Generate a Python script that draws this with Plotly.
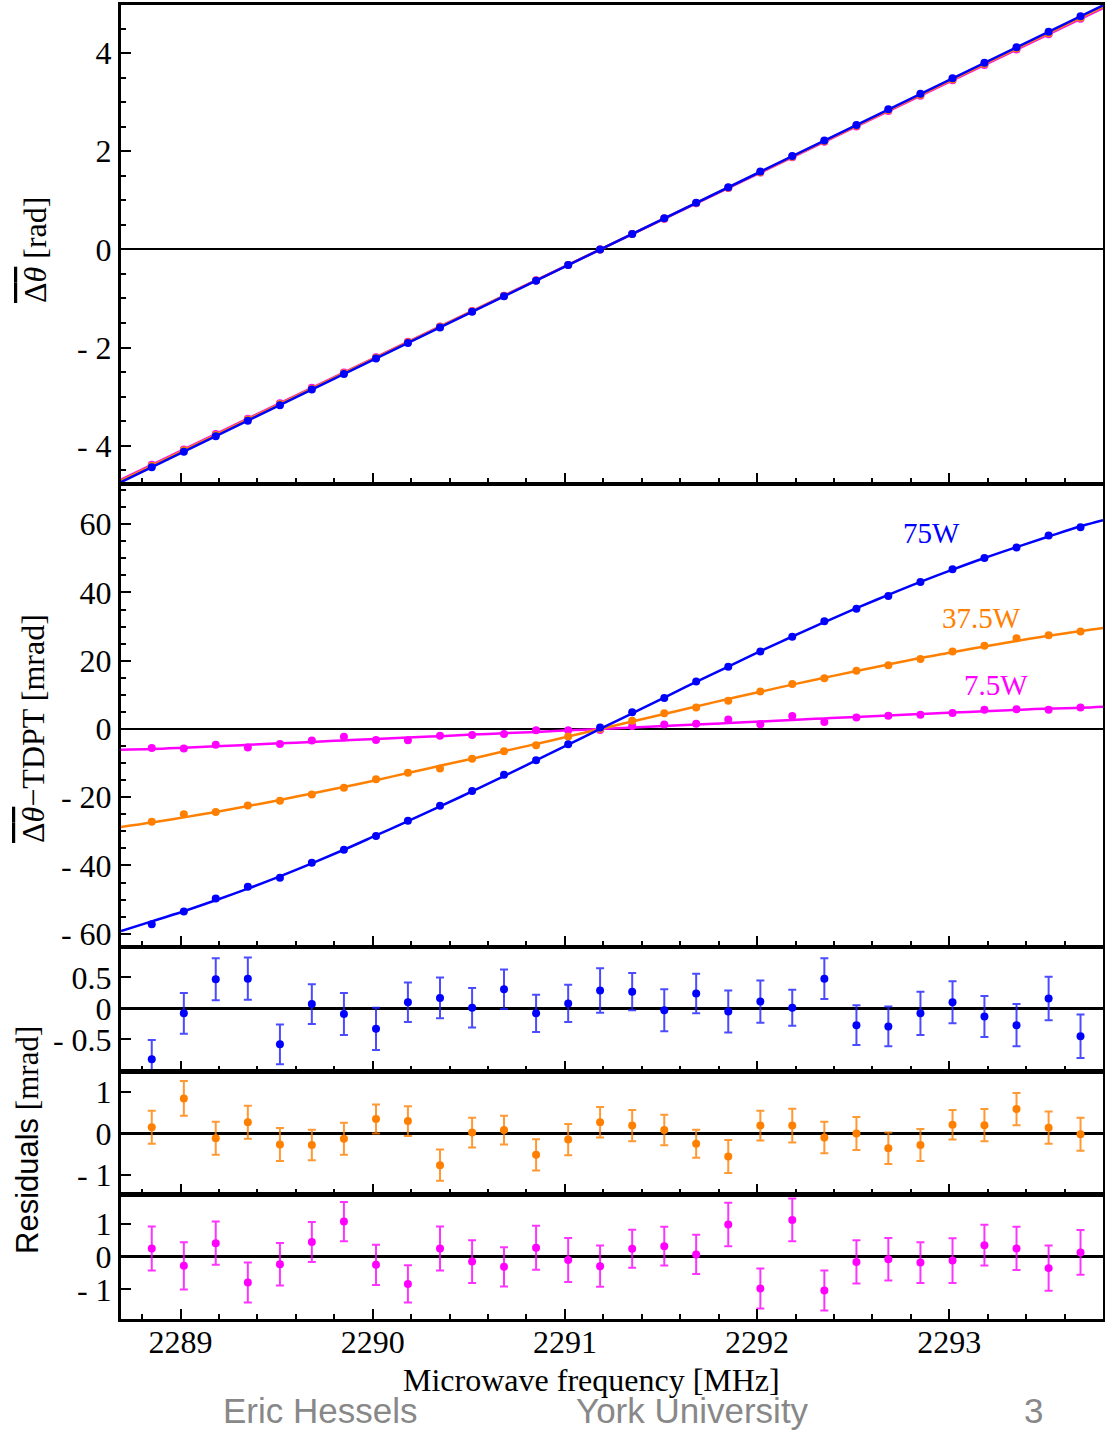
import plotly.graph_objects as go

# ---------------- data ----------------
freqs = [2288.85, 2289.017, 2289.183, 2289.35, 2289.517, 2289.683, 2289.85, 2290.017,
         2290.183, 2290.35, 2290.517, 2290.683, 2290.85, 2291.017, 2291.183, 2291.35,
         2291.517, 2291.683, 2291.85, 2292.017, 2292.183, 2292.35, 2292.517, 2292.683,
         2292.85, 2293.017, 2293.183, 2293.35, 2293.517, 2293.683]

# x positions of the fitted curves (plot edges + measured frequencies)
fit_x = [2288.69] + freqs + [2293.80]

# TDPT prediction [rad] at fit_x
tdpt = [-4.683, -4.383, -4.070, -3.757, -3.444, -3.131, -2.818, -2.506, -2.193, -1.880,
        -1.567, -1.254, -0.941, -0.628, -0.315, 0.000, 0.311, 0.624, 0.937, 1.250, 1.563,
        1.876, 2.189, 2.502, 2.815, 3.127, 3.440, 3.753, 4.066, 4.379, 4.692, 4.911]

# Δθ − TDPT [mrad], measured points
dev_75 = [-57.2, -53.5, -49.7, -46.2, -43.6, -39.2, -35.4, -31.4, -26.9, -22.5,
          -18.2, -13.4, -9.2, -4.5, 0.4, 4.9, 9.1, 13.9, 18.2, 22.7,
          27.0, 31.6, 35.2, 39.0, 43.1, 46.8, 50.1, 53.2, 56.7, 59.1]
dev_37 = [-27.2, -25.0, -24.3, -22.4, -21.0, -19.2, -17.2, -14.7, -12.8, -11.6,
          -8.7, -6.5, -4.8, -2.2, 0.0, 2.4, 4.6, 6.3, 8.3, 11.0,
          13.2, 14.9, 17.1, 18.7, 20.5, 22.7, 24.4, 26.6, 27.5, 28.6]
dev_7 = [-5.6, -5.7, -4.6, -5.4, -4.4, -3.4, -2.3, -3.2, -3.3, -2.0,
         -1.8, -1.5, -0.4, -0.4, -0.3, 0.9, 1.3, 1.5, 2.8, 1.4,
         3.8, 2.05, 3.4, 3.9, 4.2, 4.7, 5.6, 5.8, 5.6, 6.3]

# fitted curves [mrad] at fit_x
fit_75 = [-59.2, -56.4, -53.4, -50.2, -46.8, -43.2, -39.4, -35.4, -31.2, -27.0, -22.7,
          -18.3, -13.8, -9.2, -4.6, 0.0, 4.6, 9.2, 13.8, 18.3, 22.8,
          27.1, 31.3, 35.4, 39.3, 43.1, 46.7, 50.1, 53.3, 56.4, 59.4, 61.2]
fit_37 = [-28.7, -27.4, -25.9, -24.3, -22.6, -20.8, -18.9, -17.0, -15.0, -12.9, -10.8,
          -8.7, -6.5, -4.4, -2.2, 0.0, 2.2, 4.4, 6.6, 8.8, 10.9,
          13.0, 15.0, 17.0, 18.9, 20.8, 22.5, 24.2, 25.8, 27.3, 28.7, 29.6]
fit_7 = [-6.1, -5.9, -5.5, -5.05, -4.65, -4.2, -3.8, -3.35, -2.95, -2.5, -2.1,
         -1.65, -1.25, -0.85, -0.4, 0.0, 0.45, 0.85, 1.3, 1.75, 2.2,
         2.65, 3.1, 3.5, 3.95, 4.4, 4.8, 5.2, 5.6, 6.0, 6.2, 6.5]

# residuals [mrad] and their uncertainties
res_75 = [-0.82, -0.08, 0.47, 0.48, -0.58, 0.07, -0.09, -0.33, 0.10, 0.17,
          0.01, 0.31, -0.08, 0.08, 0.29, 0.27, -0.03, 0.24, -0.05, 0.11,
          0.01, 0.48, -0.27, -0.29, -0.08, 0.10, -0.13, -0.27, 0.16, -0.45]
err_75 = [0.31, 0.33, 0.34, 0.34, 0.32, 0.32, 0.34, 0.34, 0.32, 0.33,
          0.32, 0.32, 0.30, 0.30, 0.36, 0.30, 0.34, 0.32, 0.34, 0.34,
          0.29, 0.33, 0.32, 0.32, 0.35, 0.34, 0.33, 0.34, 0.35, 0.35]
res_37 = [0.15, 0.85, -0.12, 0.27, -0.27, -0.28, -0.13, 0.35, 0.30, -0.77,
          0.02, 0.08, -0.52, -0.15, 0.27, 0.19, 0.08, -0.25, -0.56, 0.19,
          0.19, -0.10, 0.00, -0.36, -0.28, 0.21, 0.20, 0.59, 0.14, -0.02]
err_37 = [0.40, 0.42, 0.40, 0.40, 0.40, 0.37, 0.39, 0.35, 0.36, 0.38,
          0.36, 0.35, 0.38, 0.38, 0.37, 0.38, 0.37, 0.34, 0.40, 0.36,
          0.41, 0.38, 0.40, 0.38, 0.39, 0.36, 0.39, 0.39, 0.39, 0.40]
res_7 = [0.25, -0.28, 0.41, -0.79, -0.23, 0.45, 1.07, -0.25, -0.83, 0.25,
         -0.15, -0.31, 0.27, -0.10, -0.29, 0.24, 0.32, 0.07, 0.98, -0.97,
         1.12, -1.03, -0.16, -0.08, -0.18, -0.12, 0.35, 0.25, -0.35, 0.13]
err_7 = [0.67, 0.72, 0.66, 0.61, 0.65, 0.61, 0.60, 0.61, 0.57, 0.67,
         0.65, 0.60, 0.67, 0.67, 0.63, 0.58, 0.59, 0.60, 0.66, 0.61,
         0.65, 0.61, 0.66, 0.65, 0.62, 0.68, 0.62, 0.66, 0.69, 0.68]

series = [("7.5W", "#FF00FF", dev_7, fit_7, res_7, err_7),
          ("37.5W", "#FF8000", dev_37, fit_37, res_37, err_37),
          ("75W", "#0000FF", dev_75, fit_75, res_75, err_75)]

tdpt_pts = tdpt[1:-1]

# ---------------- figure ----------------
W, H = 1105, 1432
ML, MR, MT, MB = 121, 2, 5, 113
PH = H - MT - MB


def dom(top_px, bot_px):
    return [(H - MB - bot_px) / PH, (H - MB - top_px) / PH]


fig = go.Figure()
SERIF = "Liberation Serif"

for name, col, dev, fit, res, err in series:
    fig.add_trace(go.Scatter(x=fit_x, y=[t + f / 1000 for t, f in zip(tdpt, fit)],
                             mode="lines", line=dict(color=col, width=2.5),
                             xaxis="x", yaxis="y", showlegend=False, hoverinfo="skip"))
    fig.add_trace(go.Scatter(x=freqs, y=[t + d / 1000 for t, d in zip(tdpt_pts, dev)],
                             mode="markers", marker=dict(color=col, size=8),
                             xaxis="x", yaxis="y", showlegend=False))
    fig.add_trace(go.Scatter(x=fit_x, y=fit, mode="lines", line=dict(color=col, width=2.5),
                             line_shape="spline", xaxis="x2", yaxis="y2",
                             showlegend=False, hoverinfo="skip"))
    fig.add_trace(go.Scatter(x=freqs, y=dev, mode="markers", marker=dict(color=col, size=8),
                             xaxis="x2", yaxis="y2", showlegend=False, name=name))

res_axes = {"75W": ("x3", "y3"), "37.5W": ("x4", "y4"), "7.5W": ("x5", "y5")}
err_cols = {"75W": "rgba(30,30,255,0.8)", "37.5W": "rgba(255,128,0,0.8)",
            "7.5W": "rgba(255,0,255,0.8)"}
for name, col, dev, fit, res, err in series:
    xa, ya = res_axes[name]
    fig.add_trace(go.Scatter(x=freqs, y=res, mode="markers",
                             marker=dict(color=col, size=8),
                             error_y=dict(type="data", array=err, visible=True,
                                          color=err_cols[name], thickness=2, width=4),
                             xaxis=xa, yaxis=ya, showlegend=False, name=name))

xrange = [2288.69, 2293.80]
xcommon = dict(range=xrange, showline=True, linewidth=3, linecolor="black", mirror=True,
               ticks="inside", ticklen=10, tickwidth=2, tickcolor="black", dtick=1,
               tick0=2289, minor=dict(ticks="inside", ticklen=5, tickwidth=1.5,
                                      dtick=0.2, tickcolor="black"),
               showgrid=False, zeroline=False, automargin=False,
               tickfont=dict(family=SERIF, size=32, color="black"))
ycommon = dict(showline=True, linewidth=3, linecolor="black", mirror=True,
               ticks="inside", ticklen=10, tickwidth=2, tickcolor="black",
               showgrid=False, zeroline=True, zerolinecolor="black", automargin=False,
               tickfont=dict(family=SERIF, size=32, color="black"))

panels = [(5, 483), (485, 946), (948, 1071), (1072, 1194), (1195, 1319)]
yspecs = [
    dict(range=[-4.76, 4.98], tickvals=[-4, -2, 0, 2, 4], ticktext=["- 4", "- 2", "0", "2", "4"],
         minor=dict(ticks="inside", ticklen=5, tickwidth=1.5, dtick=0.5, tick0=0, tickcolor="black"),
         zerolinewidth=1.5),
    dict(range=[-63.6, 71.5], tickvals=[-60, -40, -20, 0, 20, 40, 60],
         ticktext=["- 60", "- 40", "- 20", "0", "20", "40", "60"],
         minor=dict(ticks="inside", ticklen=5, tickwidth=1.5, dtick=5, tick0=0, tickcolor="black"),
         zerolinewidth=1.5),
    dict(range=[-1.01, 0.975], tickvals=[-0.5, 0, 0.5], ticktext=["- 0.5", "0", "0.5"],
         zerolinewidth=2.5),
    dict(range=[-1.47, 1.49], tickvals=[-1, 0, 1], ticktext=["- 1", "0", "1"],
         zerolinewidth=2.5),
    dict(range=[-1.9, 1.88], tickvals=[-1, 0, 1], ticktext=["- 1", "0", "1"],
         zerolinewidth=2.5),
]

layout = dict(width=W, height=H, margin=dict(l=ML, r=MR, t=MT, b=MB, autoexpand=False),
              paper_bgcolor="white", plot_bgcolor="white", showlegend=False)
for i, ((top, bot), ys) in enumerate(zip(panels, yspecs), start=1):
    sx = "" if i == 1 else str(i)
    xa = dict(xcommon)
    xa["domain"] = [0, 1]
    xa["anchor"] = "y" + sx
    if i > 1:
        xa["matches"] = "x"
    xa["showticklabels"] = (i == 5)
    if i == 5:
        xa["tickvals"] = [2289, 2290, 2291, 2292, 2293]
        xa["ticktext"] = ["2289", "2290", "2291", "2292", "2293"]
        xa["ticklabelstandoff"] = -7
    ya = dict(ycommon)
    ya.update(ys)
    ya["domain"] = dom(top, bot)
    ya["anchor"] = "x" + sx
    layout["xaxis" + sx] = xa
    layout["yaxis" + sx] = ya

fig.update_layout(**layout)


def py(p):
    return (H - MB - p) / PH


def px(p):
    return (p - ML) / (W - ML - MR)


OL = "<span style='text-decoration:overline'>Δ<i>θ</i></span>"
ann = [
    dict(x=px(35), y=py(250), text=OL + " [rad]", textangle=-90,
         font=dict(family=SERIF, size=32, color="black")),
    dict(x=px(33), y=py(729), text=OL + "−TDPT [mrad]", textangle=-90,
         font=dict(family=SERIF, size=32, color="black")),
    dict(x=px(27), y=py(1140),
         text="<span style='font-family:Liberation Sans'>Residuals</span> [mrad]",
         textangle=-90, font=dict(family=SERIF, size=31, color="black")),
    dict(x=px(591), y=py(1380), text="Microwave frequency [MHz]",
         font=dict(family=SERIF, size=32, color="black")),
    dict(x=px(320), y=py(1411), text="Eric Hessels",
         font=dict(family="Liberation Sans", size=35, color="#888888")),
    dict(x=px(692), y=py(1411), text="York University",
         font=dict(family="Liberation Sans", size=35, color="#888888")),
    dict(x=px(1033), y=py(1411), text="3",
         font=dict(family="Liberation Sans", size=35, color="#888888")),
]
for a in ann:
    a.update(xref="paper", yref="paper", showarrow=False, xanchor="center", yanchor="middle")

labels = [("75W", "#0000FF", 2292.907, 57.4), ("37.5W", "#FF8000", 2293.167, 32.5),
          ("7.5W", "#FF00FF", 2293.245, 12.9)]
for txt, col, lx, ly in labels:
    ann.append(dict(x=lx, y=ly, xref="x2", yref="y2", text=txt, showarrow=False,
                    font=dict(family=SERIF, size=29, color=col)))

fig.update_layout(annotations=ann)
fig.write_html("out.html", config={"displayModeBar": False},
               post_script="document.body.style.margin='0';document.body.style.overflow='hidden';")
